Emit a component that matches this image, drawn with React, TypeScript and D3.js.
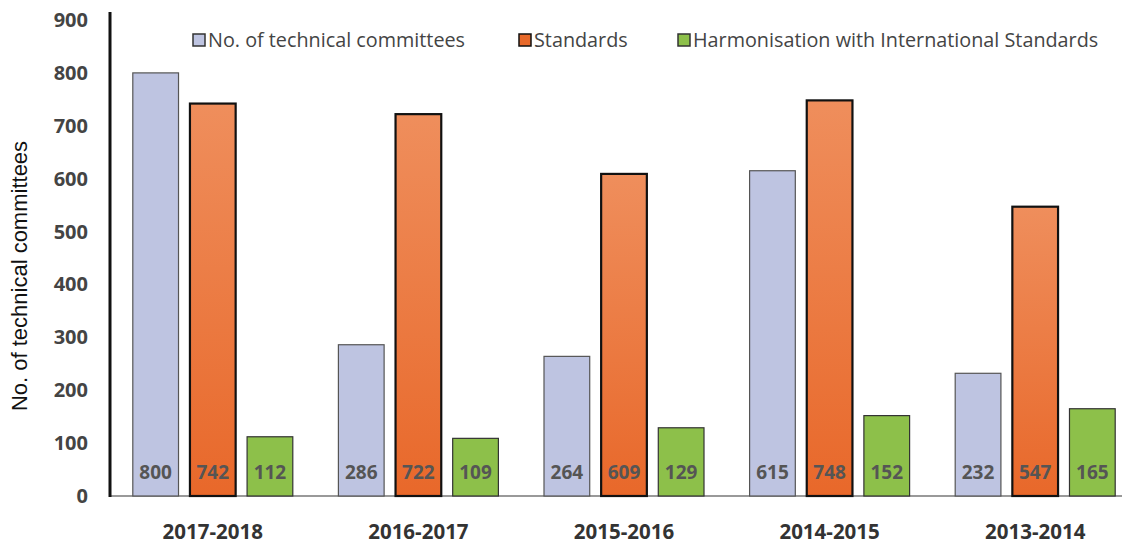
import React from "react";
import * as d3 from "d3";

const categories = ["2017-2018", "2016-2017", "2015-2016", "2014-2015", "2013-2014"];
const techCommittees = [800, 286, 264, 615, 232];
const standards = [742, 722, 609, 748, 547];
const harmonisation = [112, 109, 129, 152, 165];
const yTicks = [0, 100, 200, 300, 400, 500, 600, 700, 800, 900];
const seriesNames = [
  "No. of technical committees",
  "Standards",
  "Harmonisation with International Standards",
];

const W = 1126;
const H = 542;
const FONT = "'Open Sans', 'Noto Sans', sans-serif";

export default function App() {
  const x = d3.scaleBand<string>().domain(categories).range([110, 1138]).paddingInner(0).paddingOuter(0);
  const y = d3.scaleLinear().domain([0, 900]).range([496, 20]);
  const inner = d3.scaleBand<number>().domain([0, 1, 2]).range([-80, 80]).paddingInner(0.2).paddingOuter(0);
  const bw = inner.bandwidth();

  const series = [
    { values: techCommittees, fill: "#BEC4E1", stroke: "#555", sw: 1.2 },
    { values: standards, fill: "url(#orangeGrad)", stroke: "#111", sw: 2.2 },
    { values: harmonisation, fill: "#8DC04A", stroke: "#333", sw: 1.2 },
  ];

  const legendItems = [
    { x: 193, fill: "#BEC4E1", stroke: "#333" },
    { x: 519, fill: "#E8692A", stroke: "#111" },
    { x: 678, fill: "#8DC04A", stroke: "#333" },
  ];

  return (
    <svg width={W} height={H} style={{ display: "block", position: "absolute", left: 0, top: 0, background: "#fff" }}>
      <defs>
        <linearGradient id="orangeGrad" x1="0" y1="0" x2="0" y2="1">
          <stop offset="0%" stopColor="#EF8E5C" />
          <stop offset="100%" stopColor="#E8682A" />
        </linearGradient>
      </defs>
      <rect width={W} height={H} fill="#fff" />
      {/* baseline */}
      <line x1={110} x2={1122} y1={y(0)} y2={y(0)} stroke="#777" strokeWidth={1.5} />
      {/* bars */}
      {categories.map((c, i) => {
        const cx = (x(c) as number) + x.bandwidth() / 2;
        return (
          <g key={c}>
            {series.map((s, j) => {
              const bx = cx + (inner(j) as number);
              const top = y(s.values[i]);
              return (
                <g key={j}>
                  <rect x={bx} y={top} width={bw} height={y(0) - top} fill={s.fill} stroke={s.stroke} strokeWidth={s.sw} />
                  <text x={bx + bw / 2} y={472} dy="0.35em" textAnchor="middle" fontFamily={FONT} fontWeight="bold" fontSize={19} fill="#555">
                    {s.values[i]}
                  </text>
                </g>
              );
            })}
            <text x={cx} y={532} dy="0.35em" textAnchor="middle" fontFamily={FONT} fontWeight="bold" fontSize={20.5} fill="#333">
              {c}
            </text>
          </g>
        );
      })}
      {/* y axis */}
      <line x1={110} x2={110} y1={12} y2={497} stroke="#111" strokeWidth={3} />
      {yTicks.map((t) => (
        <text key={t} x={88} y={y(t)} dy="0.35em" textAnchor="end" fontFamily={FONT} fontWeight="bold" fontSize={20} fill="#444">
          {t}
        </text>
      ))}
      <text transform={`translate(19,276) rotate(-90)`} textAnchor="middle" dy="0.35em" fontFamily="'Liberation Sans', Arial, sans-serif" fontSize={22} fill="#111">
        No. of technical committees
      </text>
      {/* legend */}
      {legendItems.map((l, i) => (
        <g key={i}>
          <rect x={l.x} y={34} width={12} height={12} fill={l.fill} stroke={l.stroke} strokeWidth={1.5} />
          <text x={l.x + 15} y={40} dy="0.35em" fontFamily={FONT} fontSize={19.8} fill="#444">
            {seriesNames[i]}
          </text>
        </g>
      ))}
    </svg>
  );
}
